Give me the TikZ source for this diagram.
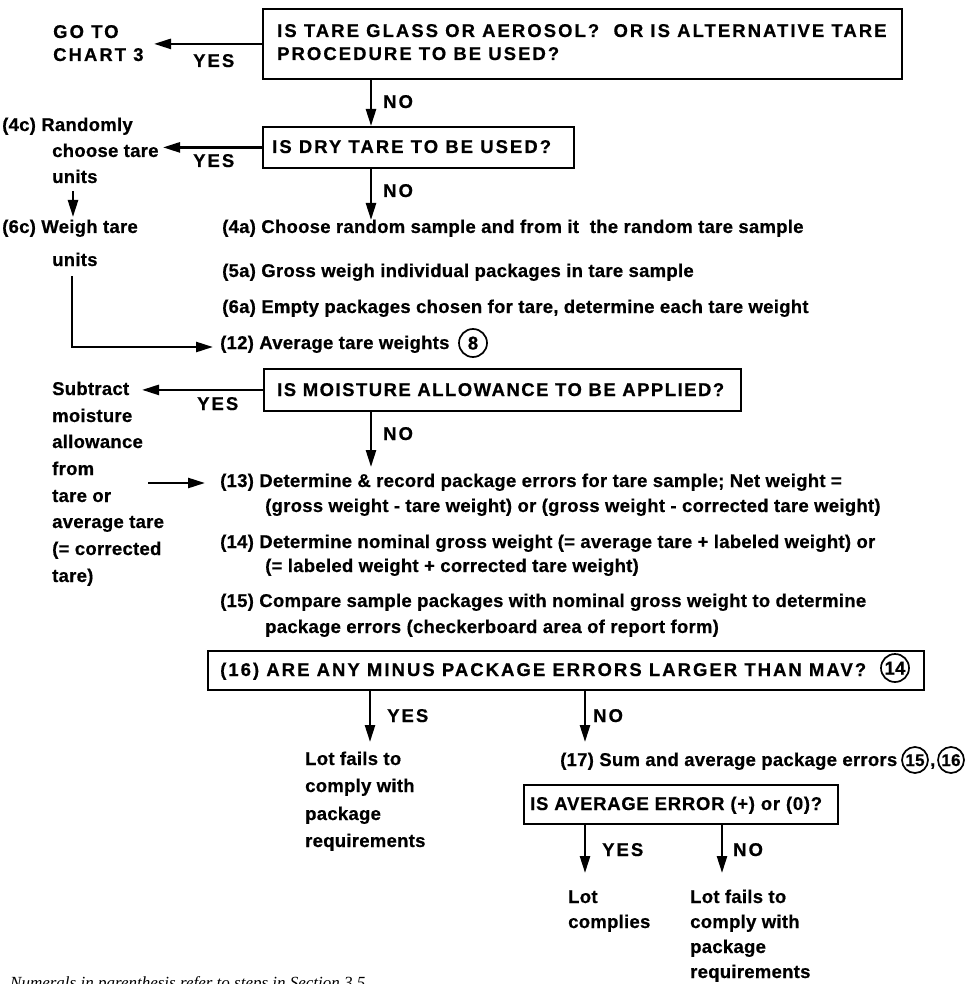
\documentclass[tikz,border=0pt]{standalone}
\usepackage{fontspec}
\setmainfont{Liberation Sans}[LetterSpace=1.5, BoldFeatures={FakeBold=0.6}]
\newfontfamily\capsfont{Liberation Sans}[LetterSpace=11, BoldFeatures={FakeBold=0.6}]
\newfontfamily\notefont{Liberation Serif}
\usetikzlibrary{arrows.meta}
\tikzset{
  txt/.style={anchor=base west, inner sep=0pt, font=\fontsize{18.5}{22}\selectfont\bfseries},
  captxt/.style={anchor=base west, inner sep=0pt, font=\capsfont\fontsize{18.5}{22}\selectfont\bfseries},
  qbox/.style={draw, line width=1.8pt, anchor=north west, inner sep=0pt},
  arr/.style={line width=2.5pt, -{Triangle[length=17pt,width=10pt]}},
  num/.style={draw, circle, line width=1.7pt, inner sep=0pt, minimum size=28pt,
    text height=13pt, text depth=0pt, font=\fontsize{18.5}{22}\selectfont\bfseries},
  smallnum/.style={num, minimum size=26pt, text height=12pt,
    font=\fontsize{17}{20}\selectfont\bfseries},
}
\begin{document}
\begin{tikzpicture}[x=1pt,y=-1pt]
\useasboundingbox (0,0) rectangle (965,984);
\clip (0,0) rectangle (965,984);
\fill[white] (0,0) rectangle (965,984);

% x guides
\coordinate (xa) at (371,0);
\coordinate (xb) at (370,0);
\coordinate (xc) at (585,0);
\coordinate (xd) at (722,0);

% question boxes
\node[qbox, minimum width=639pt, minimum height=70pt] (b1) at (262,8) {};
\node[captxt] (t1a) at (277,37) {IS TARE GLASS OR AEROSOL?\ \ OR IS ALTERNATIVE TARE};
\node[captxt] (t1b) at (277,60) {PROCEDURE TO BE USED?};

\node[qbox, minimum width=311pt, minimum height=41pt] (b2) at (262,126) {};
\node[captxt] (t2) at (272,153) {IS DRY TARE TO BE USED?};

\node[qbox, minimum width=477pt, minimum height=42pt] (b3) at (263,368) {};
\node[captxt] (t3) at (277,396) {\addfontfeatures{LetterSpace=8}IS MOISTURE ALLOWANCE TO BE APPLIED?};

\node[qbox, minimum width=716pt, minimum height=39pt] (b4) at (207,650) {};
\node[captxt] (t4) at (220,676) {(16) ARE ANY MINUS PACKAGE ERRORS LARGER THAN MAV?};
\node[num] (n14) at (895,668) {14};

\node[qbox, minimum width=314pt, minimum height=39pt] (b5) at (523,784) {};
\node[captxt] (t5) at (530,810) {\addfontfeatures{LetterSpace=4}IS AVERAGE ERROR (+) or (0)?};

% left column
\node[captxt] (go1) at (53,38) {GO TO};
\node[captxt] (go2) at (53,61) {CHART 3};

\node[txt] (c4a) at (2,131) {(4c) Randomly};
\node[txt] (c4b) at (52,157) {choose tare};
\node[txt] (c4c) at (52,183) {units};
\node[txt] (c6a) at (2,233) {(6c) Weigh tare};
\node[txt] (c6b) at (52,266) {units};

\node[txt] (s1) at (52,395) {Subtract};
\node[txt] (s2) at (52,422) {moisture};
\node[txt] (s3) at (52,448) {allowance};
\node[txt] (s4) at (52,475) {from};
\node[txt] (s5) at (52,502) {tare or};
\node[txt] (s6) at (52,528) {average tare};
\node[txt] (s7) at (52,555) {(= corrected};
\node[txt] (s8) at (52,582) {tare)};

% right column steps
\node[txt] (p4a) at (222,233) {(4a) Choose random sample and from it\ \ the random tare sample};
\node[txt] (p5a) at (222,277) {(5a) Gross weigh individual packages in tare sample};
\node[txt] (p6a) at (222,313) {(6a) Empty packages chosen for tare, determine each tare weight};
\node[txt] (p12) at (220,349) {(12) Average tare weights};
\node[num] (n8) at (473,343) {8};

\node[txt] (p13a) at (220,487) {(13) Determine \& record package errors for tare sample; Net weight =};
\node[txt] (p13b) at (265,512) {(gross weight - tare weight) or (gross weight - corrected tare weight)};
\node[txt] (p14a) at (220,548) {(14) Determine nominal gross weight (= average tare + labeled weight) or};
\node[txt] (p14b) at (265,572) {(= labeled weight + corrected tare weight)};
\node[txt] (p15a) at (220,607) {(15) Compare sample packages with nominal gross weight to determine};
\node[txt] (p15b) at (265,633) {package errors (checkerboard area of report form)};

\node[txt] (f1) at (305,765) {Lot fails to};
\node[txt] (f2) at (305,792) {comply with};
\node[txt] (f3) at (305,820) {package};
\node[txt] (f4) at (305,847) {requirements};

\node[txt] (p17) at (560,766) {(17) Sum and average package errors};
\node[smallnum] (n15) at (915,760) {15};
\node[txt] (comma) at (930,766) {,};
\node[smallnum] (n16) at (951,760) {16};

\node[txt] (l1) at (568,903) {Lot};
\node[txt] (l2) at (568,928) {complies};
\node[txt] (g1) at (690,903) {Lot fails to};
\node[txt] (g2) at (690,928) {comply with};
\node[txt] (g3) at (690,953) {package};
\node[txt] (g4) at (690,978) {requirements};

\node[anchor=base west, inner sep=0pt, font=\notefont\fontsize{17}{20}\selectfont\itshape] (note) at (10,988) {Numerals in parenthesis refer to steps in Section 3.5};

% arrow end points
\coordinate (e1) at (154,44);
\coordinate (e3) at (163,147);
\coordinate (e7) at (142,390);
\coordinate (u1) at (73,191);
\coordinate (u2) at (73,217);
\coordinate (k1) at (72,276);
\coordinate (k2) at (72,347);
\coordinate (k3) at (213,347);
\coordinate (m1) at (148,483);
\coordinate (m2) at (205,483);
\coordinate (y0) at (0,220);
\coordinate (y3) at (0,467);
\coordinate (y1) at (0,742);
\coordinate (y2) at (0,873);

% connectors
\draw[arr] (b1.west) -- (b1.west -| e1);
\node[captxt] (yes1) at (193,67) {YES};
\draw[arr] (b1.south -| xa) -- (b2.north -| xa);
\node[captxt] (no1) at (383,108) {NO};

\draw[arr] (b2.west) -- (b2.west -| e3);
\node[captxt] (yes2) at (193,167) {YES};
\draw[arr] (b2.south -| xa) -- (xa |- y0);
\node[captxt] (no2) at (383,197) {NO};

\draw[arr] (u1) -- (u2);
\draw[arr] (k1) -- (k2) -- (k3);

\draw[arr] (b3.west) -- (b3.west -| e7);
\node[captxt] (yes3) at (197,410) {YES};
\draw[arr] (b3.south -| xa) -- (xa |- y3);
\node[captxt] (no3) at (383,440) {NO};

\draw[arr] (m1) -- (m2);

\draw[arr] (b4.south -| xb) -- (xb |- y1);
\node[captxt] (yes4) at (387,722) {YES};
\draw[arr] (b4.south -| xc) -- (xc |- y1);
\node[captxt] (no4) at (593,722) {NO};

\draw[arr] (b5.south -| xc) -- (xc |- y2);
\node[captxt] (yes5) at (602,856) {YES};
\draw[arr] (b5.south -| xd) -- (xd |- y2);
\node[captxt] (no5) at (733,856) {NO};
\end{tikzpicture}
\end{document}
